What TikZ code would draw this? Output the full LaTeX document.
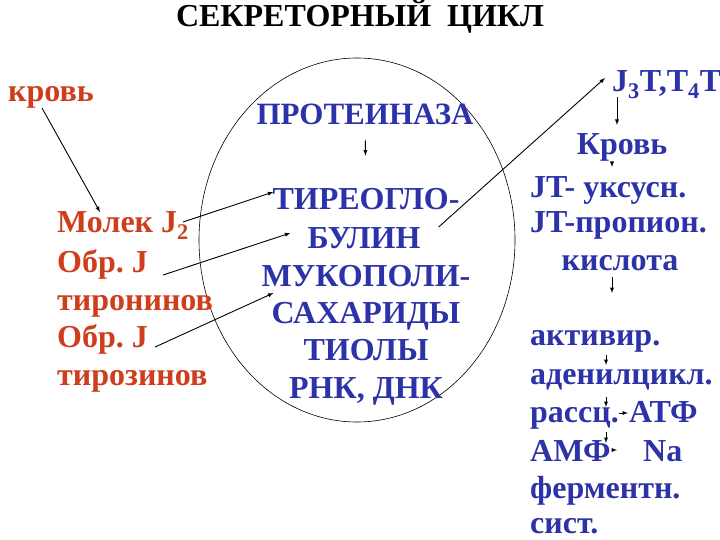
\documentclass[tikz,border=0pt]{standalone}
\usepackage{fontspec}
\setmainfont{Liberation Serif}[BoldFont={Liberation Serif Bold}]
\usetikzlibrary{shapes.geometric, arrows}
\definecolor{redtext}{RGB}{206,62,28}
\definecolor{bluetext}{RGB}{44,50,168}

\begin{document}
\begin{tikzpicture}[x=1pt, y=-1pt, >=latex,
    redtxt/.style={text=redtext, font=\frenchspacing\bfseries\fontsize{32}{38}\selectfont, inner sep=0pt, anchor=base west},
    bluetxt/.style={text=bluetext, font=\frenchspacing\bfseries\fontsize{32}{38}\selectfont, inner sep=0pt, anchor=base},
    conn/.style={->, line width=0.9pt}]
    \useasboundingbox (0,0) rectangle (720,540);
    % Title and cell
    \node (title) [font=\bfseries\fontsize{32}{36}\selectfont, anchor=base] at (360,27) {СЕКРЕТОРНЫЙ\ \ ЦИКЛ};
    \node (cell) [ellipse, draw, line width=0.6pt, minimum width=316pt, minimum height=364pt] at (357,240) {};
    % Left column
    \node (krov) [redtxt] at (8,102) {кровь};
    \node (molek) [redtxt] at (57,233) {Молек J\textsubscript{2}};
    \node (obr1) [redtxt] at (57,272) {Обр. J};
    \node (tiron) [redtxt] at (57,310) {тиронинов};
    \node (obr2) [redtxt] at (57,347) {Обр. J};
    \node (tiroz) [redtxt] at (57,385) {тирозинов};
    % Middle column
    \node (proteinaza) [bluetxt, font=\bfseries\fontsize{31}{36}\selectfont] at (365,125) {ПРОТЕИНАЗА};
    \node (tireo) [bluetxt] at (366,210) {ТИРЕОГЛО-};
    \node (bulin) [bluetxt] at (364,248) {БУЛИН};
    \node (mukopoli) [bluetxt] at (366,286) {МУКОПОЛИ-};
    \node (sahar) [bluetxt] at (366,323) {САХАРИДЫ};
    \node (tioly) [bluetxt] at (366,360) {ТИОЛЫ};
    \node (rnk) [bluetxt] at (366,398) {РНК, ДНК};
    % Right column
    \node (jt) [bluetxt, anchor=base west] at (612,92) {J\textsubscript{3}T,T\textsubscript{4}T};
    \node (krov2) [bluetxt] at (622,155) {Кровь};
    \node (uksus) [bluetxt, anchor=base west] at (530,198) {JT- уксусн.};
    \node (propion) [bluetxt, anchor=base west] at (530,233) {JT-пропион.};
    \node (kislota) [bluetxt] at (620,270) {кислота};
    \node (aktiv) [bluetxt, anchor=base west] at (530,345) {активир.};
    \node (adenil) [bluetxt, anchor=base west] at (530,384) {аденилцикл.};
    \node (rassc) [bluetxt, anchor=base west] at (530,422) {рассц.};
    \node (atf) [bluetxt, anchor=base west] at (629,422) {АТФ};
    \node (amf) [bluetxt, anchor=base west] at (530,461) {АМФ};
    \node (na) [bluetxt, anchor=base west] at (643,461) {Na};
    \node (ferm) [bluetxt, anchor=base west] at (530,498) {ферментн.};
    \node (sist) [bluetxt, anchor=base west] at (530,533) {сист.};
    % Arrows
    \draw[conn] ([shift={(34pt,-6pt)}]krov.base west) -- ([shift={(43pt,21pt)}]molek.base west);
    \draw[conn] ([shift={(-6pt,11pt)}]molek.base east) -- ([shift={(1pt,18pt)}]tireo.base west);
    \draw[conn] ([shift={(15pt,-3pt)}]obr1.base east) -- ([shift={(-17pt,15pt)}]bulin.base west);
    \draw[conn] ([shift={(7pt,0pt)}]obr2.base east) -- ([shift={(2pt,30pt)}]sahar.base west);
    \draw[conn] (proteinaza) -- (tireo) [shorten <=15pt, shorten >=33pt];
    \draw[conn] ([shift={(18pt,21pt)}]bulin.base east) -- ([shift={(-7pt,14pt)}]jt.base west);
    \draw[conn] ([shift={(5pt,-5pt)}]jt.base west) -- ([shift={(-5pt,30pt)}]krov2.base);
    \draw[conn] ([shift={(-10pt,-7pt)}]krov2.base) -- ([shift={(82pt,31pt)}]uksus.base west);
    \draw[conn] ([shift={(-8pt,-7pt)}]kislota.base) -- ([shift={(82pt,52pt)}]aktiv.base west);
    \draw[conn] ([shift={(76pt,-10pt)}]aktiv.base west) -- ([shift={(76pt,19pt)}]adenil.base west);
    \draw[conn] ([shift={(76pt,-13pt)}]adenil.base west) -- ([shift={(76pt,15pt)}]rassc.base west);
    \draw[conn] ([shift={(76pt,-10pt)}]rassc.base west) -- ([shift={(76pt,18pt)}]amf.base west);
    \draw[conn] ([shift={(0pt,9pt)}]rassc.base east) -- ([shift={(-1pt,9pt)}]atf.base west);
    \draw[conn] ([shift={(1pt,11pt)}]amf.base east) -- ([shift={(-26pt,11pt)}]na.base west);
\end{tikzpicture}
\end{document}
